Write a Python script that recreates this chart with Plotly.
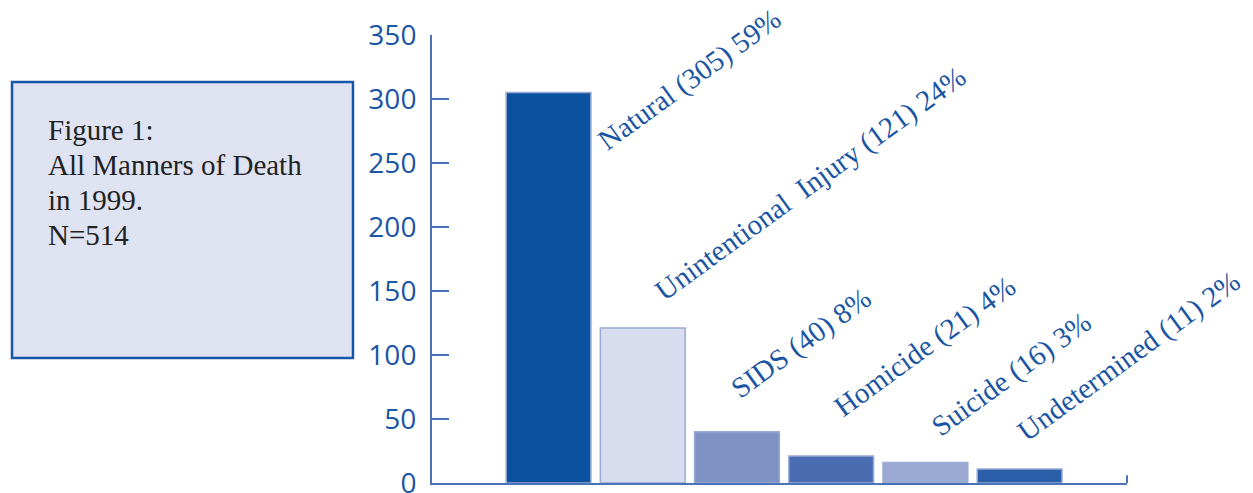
import plotly.graph_objects as go

# Data
categories = ['Natural', 'Unintentional  Injury', 'SIDS', 'Homicide', 'Suicide', 'Undetermined']
counts = [305, 121, 40, 21, 16, 11]
percents = [59, 24, 8, 4, 3, 2]
bar_colors = ['#0a52a0', '#d7ddee', '#7f92c4', '#4a6db1', '#9baad3', '#2b5ea9']
box_lines = ['Figure 1:', 'All Manners of Death', 'in 1999.', 'N=514']

# label offsets (pixels) from bar centre / bar top
label_shift = [(41, -67), (4, 18), (-15, 24), (-6, 30), (-3, 17), (-11, 18)]

blue = '#1a55a3'
axis_col = '#4a72b8'

fig = go.Figure()
fig.add_trace(go.Bar(
    x=list(range(len(counts))), y=counts,
    width=0.9,
    marker=dict(color=bar_colors, line=dict(color='#9aabd3', width=1.5)),
    showlegend=False, hoverinfo='skip'))

# Rotated labels
for i, (cat, n, p) in enumerate(zip(categories, counts, percents)):
    fig.add_annotation(x=i, y=n, xref='x', yref='y',
                       text=f'{cat} ({n}) {p}%', showarrow=False,
                       textangle=-36, xanchor='left', yanchor='bottom',
                       xshift=label_shift[i][0], yshift=label_shift[i][1],
                       font=dict(family='Liberation Serif', size=29, color=blue))

# Title box on the left
fig.add_shape(type='rect', xref='paper', yref='paper',
              x0=-0.6043, x1=-0.1137, y0=0.279, y1=0.895,
              fillcolor='#dfe3f1', line=dict(color='#1756a6', width=2.5), layer='below')
for k, line in enumerate(box_lines):
    fig.add_annotation(xref='paper', yref='paper', x=-0.556, y=(483 - 130 - 35 * k) / 448,
                       xanchor='left', yanchor='middle', align='left', showarrow=False,
                       text=line,
                       font=dict(family='Liberation Serif', size=29, color='#222222'))

# small end tick on the x axis
fig.add_shape(type='line', xref='paper', yref='y', x0=1, x1=1, y0=0, y1=6,
              line=dict(color=axis_col, width=2))

fig.update_layout(
    width=1253, height=493,
    margin=dict(l=424, r=134, t=27, b=18, autoexpand=False),
    plot_bgcolor='white', paper_bgcolor='white',
    bargap=0.1,
    xaxis=dict(range=[-1.237, 6.14], showticklabels=False, showgrid=False, zeroline=False,
               showline=True, linecolor=axis_col, linewidth=2, ticks='', automargin=False),
    yaxis=dict(range=[0, 350], tickvals=[0, 50, 100, 150, 200, 250, 300, 350],
               showgrid=False, zeroline=False, showline=True, linecolor=axis_col, linewidth=2,
               ticks='inside', ticklen=17, tickwidth=2, tickcolor=axis_col,
               ticklabelstandoff=8, automargin=False,
               tickfont=dict(family='Open Sans', size=28, color=blue)),
)

fig.write_html('out.html')
